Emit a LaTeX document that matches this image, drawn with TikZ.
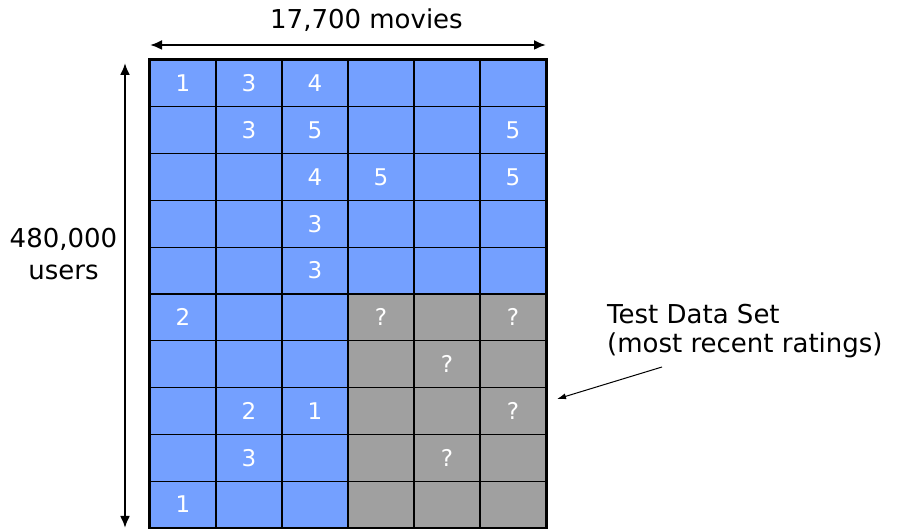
\documentclass[tikz,border=0pt]{standalone}
\usepackage{fontspec}
\setmainfont{DejaVu Sans}
\usetikzlibrary{arrows.meta}
\definecolor{cellblue}{RGB}{116,160,255}
\definecolor{cellgrey}{RGB}{160,160,160}
\begin{document}
\begin{tikzpicture}[x=1pt,y=1pt,
  cell/.style={draw=black, line width=1.3pt, minimum width=66pt, minimum height=46.8pt,
    inner sep=0pt, text=white, font=\fontsize{23}{28}\selectfont},
  lbl/.style={font=\fontsize{26}{32}\selectfont, text=black, inner sep=0pt},
  bigarrow/.style={line width=2.2pt, {Latex[length=12pt,width=10pt]}-{Latex[length=12pt,width=10pt]}}
]
\useasboundingbox (0,0) rectangle (897,529);
\foreach \r/\vals in {1/{1,3,4,,,},2/{,3,5,,,5},3/{,,4,5,,5},4/{,,3,,,},5/{,,3,,,},
                      6/{2,,,?,,?},7/{,,,,?,},8/{,2,1,,,?},9/{,3,,,?,},10/{1,,,,,}}{
  \foreach \t [count=\c] in \vals {
    \pgfmathsetmacro{\cx}{150+66*(\c-1)+33}
    \pgfmathsetmacro{\cy}{469-46.8*(\r-1)-23.4}
    \pgfmathtruncatemacro{\isgrey}{(\r>5)&&(\c>3)}
    \ifnum\isgrey=1
      \node[cell, fill=cellgrey] (c-\r-\c) at (\cx,\cy) {\t};
    \else
      \node[cell, fill=cellblue] (c-\r-\c) at (\cx,\cy) {\t};
    \fi
  }
}
% outer border
\draw[line width=3pt] (c-1-1.north west) rectangle (c-10-6.south east);
% top arrow
\coordinate (hl) at (150,484);
\coordinate (hr) at (546,484);
\draw[bigarrow] (hl) -- (hr);
\node[lbl] (movies) at (366.5,509) {17,700 movies};
% left arrow
\coordinate (vt) at (125,466);
\coordinate (vb) at (125,1);
\draw[bigarrow] (vt) -- (vb);
\node[lbl, align=center] (users) at (63.5,275) {480,000\\users};
% test data label
\node[lbl, font=\fontsize{26}{29}\selectfont, align=left, anchor=west] (test) at (607,198) {Test Data Set\\(most recent ratings)};
\coordinate (ta) at (662,162);
\coordinate (tb) at (557,130);
\draw[line width=1pt, -{Latex[length=9pt,width=6pt]}] (ta) -- (tb);
\end{tikzpicture}
\end{document}
